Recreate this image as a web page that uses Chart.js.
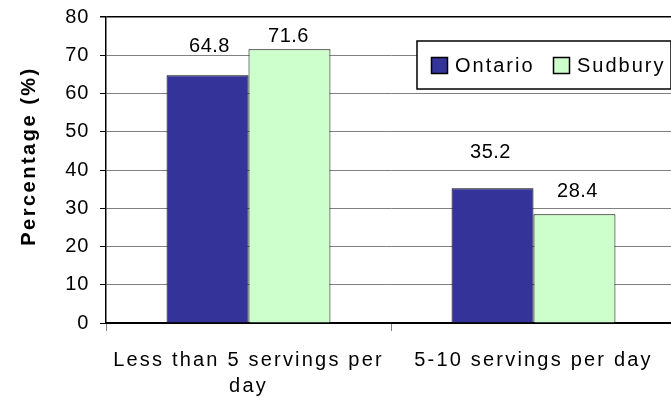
<!DOCTYPE html>
<html>
<head>
<meta charset="utf-8">
<script src="https://cdn.jsdelivr.net/npm/chart.js@4/dist/chart.umd.min.js"></script>
<style>
  html, body { margin: 0; padding: 0; background: #fff; overflow: hidden; }
  #wrap { width: 680px; height: 404px; }
</style>
</head>
<body>
<div id="wrap"><canvas id="servings-chart"></canvas></div>
<script>
// servings of vegetables and fruit, Ontario vs Sudbury
var categories = [["Less than 5 servings per", "day"], "5-10 servings per day"];
var ontario = [64.8, 35.2];
var sudbury = [71.6, 28.4];
var yTicks = [0, 10, 20, 30, 40, 50, 60, 70, 80];

var FONT = "'Liberation Sans', Arial, sans-serif";

// the old office-style text is drawn a bit loose, so give each scale its own letter spacing
var spacing = { x: "2.2px", y: "0.7px", title: "2.5px" };

var looseText = {
  id: "looseText",
  afterLayout: function (chart) {
    ["x", "y"].forEach(function (id) {
      var s = chart.scales[id];
      if (s._loose) return;
      s._loose = true;
      var drawLabels = s.drawLabels;
      s.drawLabels = function (area) {
        var ctx = chart.ctx;
        ctx.save();
        ctx.letterSpacing = spacing[id];
        drawLabels.call(s, area);
        ctx.restore();
      };
      var drawTitle = s.drawTitle;
      s.drawTitle = function () {
        var ctx = chart.ctx;
        ctx.save();
        ctx.letterSpacing = spacing.title;
        ctx.translate(0, -14); // title sits a little above the axis middle
        drawTitle.call(s);
        ctx.restore();
      };
    });
  }
};

// value labels over each bar (lift = px above the bar top, shift = px sideways)
var barLabels = {
  id: "barLabels",
  afterDatasetsDraw: function (chart, args, opts) {
    var ctx = chart.ctx;
    ctx.save();
    ctx.letterSpacing = "0.5px";
    ctx.fillStyle = "#000";
    ctx.font = "20px " + FONT;
    ctx.textAlign = "center";
    ctx.textBaseline = "middle";
    chart.data.datasets.forEach(function (ds, di) {
      var meta = chart.getDatasetMeta(di);
      meta.data.forEach(function (bar, i) {
        ctx.fillText(ds.data[i].toFixed(1), bar.x + opts.shift[di][i], bar.y - opts.lift[di][i]);
      });
    });
    ctx.restore();
  }
};

// boxed legend in the top right of the plot
var boxLegend = {
  id: "boxLegend",
  afterDraw: function (chart, args, opts) {
    var ctx = chart.ctx;
    ctx.save();
    ctx.fillStyle = "#fff";
    ctx.fillRect(opts.x, opts.y, opts.w, opts.h);
    ctx.strokeStyle = "#000";
    ctx.lineWidth = 1.5;
    ctx.strokeRect(opts.x, opts.y, opts.w, opts.h);
    ctx.font = "20px " + FONT;
    ctx.letterSpacing = "2px";
    ctx.textBaseline = "middle";
    ctx.textAlign = "left";
    var cy = opts.y + opts.h / 2;
    chart.data.datasets.forEach(function (ds, di) {
      var sx = opts.items[di];
      ctx.fillStyle = ds.backgroundColor;
      ctx.fillRect(sx, cy - 8, 17, 17);
      ctx.lineWidth = 1.5;
      ctx.strokeStyle = "#000";
      ctx.strokeRect(sx + 0.5, cy - 7.5, 16, 16);
      ctx.fillStyle = "#000";
      ctx.fillText(ds.label, sx + 24, cy + 1);
    });
    ctx.restore();
  }
};

new Chart(document.getElementById("servings-chart"), {
  type: "bar",
  data: {
    labels: categories,
    datasets: [
      {
        label: "Ontario",
        data: ontario,
        backgroundColor: "#333399",
        borderColor: "#000",
        borderWidth: 1,
        categoryPercentage: 0.575,
        barPercentage: 1
      },
      {
        label: "Sudbury",
        data: sudbury,
        backgroundColor: "#CCFFCC",
        borderColor: "#000",
        borderWidth: 1,
        categoryPercentage: 0.575,
        barPercentage: 1
      }
    ]
  },
  options: {
    responsive: true,
    maintainAspectRatio: false,
    animation: false,
    layout: { padding: { top: 17, right: 4, left: 0, bottom: 0 } },
    plugins: {
      legend: { display: false },
      tooltip: { enabled: false },
      barLabels: { lift: [[29, 36], [13, 22.5]], shift: [[2, -2], [-1, 3]] },
      boxLegend: { x: 417, y: 41, w: 254, h: 48, items: [431, 553] }
    },
    scales: {
      x: {
        afterFit: function (s) { s.height = 81; },
        grid: {
          offset: true,
          drawOnChartArea: false,
          drawTicks: true,
          tickLength: 8,
          tickColor: "#808080"
        },
        border: { color: "#000", width: 2 },
        ticks: {
          color: "#000",
          padding: 16,
          maxRotation: 0,
          autoSkip: false,
          font: { family: FONT, size: 20, lineHeight: 1.3 }
        }
      },
      y: {
        min: 0,
        max: 80,
        afterFit: function (s) {
          s.width = 106;
          s.paddingTop = 0;
          s.paddingBottom = 0;
        },
        afterBuildTicks: function (s) {
          s.ticks = yTicks.map(function (v) { return { value: v }; });
        },
        grid: {
          color: function (c) {
            return (c.tick && c.tick.value === 80) ? "#000" : "#808080";
          },
          lineWidth: function (c) {
            return (c.tick && c.tick.value === 80) ? 1.5 : 1;
          },
          tickLength: 6,
          tickColor: "#000"
        },
        border: { color: "#000", width: 1.5 },
        ticks: {
          color: "#000",
          padding: 11,
          font: { family: FONT, size: 20 }
        },
        title: {
          display: true,
          text: "Percentage (%)",
          color: "#000",
          padding: { top: 17, bottom: 0 },
          font: { family: FONT, size: 20, weight: "bold" }
        }
      }
    }
  },
  plugins: [looseText, barLabels, boxLegend]
});
</script>
</body>
</html>
